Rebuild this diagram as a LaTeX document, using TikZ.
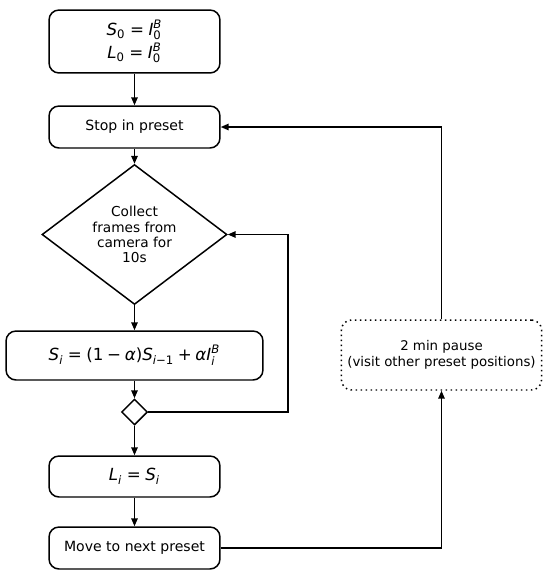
\documentclass[tikz,border=0pt]{standalone}
\usepackage{amsmath}
\usepackage{fontspec}
\setmainfont{DejaVu Sans}
\usetikzlibrary{arrows.meta,positioning,shapes.geometric}
\definecolor{ink}{HTML}{000000}
\newcommand{\vr}[1]{\mathit{#1}}
\newcommand{\eqs}{\mathrel{\text{=}}}
\newcommand{\pls}{\mathbin{\text{+}}}
\newcommand{\mns}{\mathbin{\text{−}}}
\newcommand{\alp}{\text{\itshape α}}

\begin{document}
\begin{tikzpicture}[x=0.02cm,y=-0.02cm,
    box/.style={draw=ink,line width=0.85pt,rounded corners=0.2cm,align=center,
      minimum width=3.42cm,font=\fontsize{8}{10}\selectfont},
    mathbox/.style={box,font=\fontsize{9.5}{12}\selectfont},
    decide/.style={draw=ink,line width=0.85pt,diamond,inner sep=0pt,align=center},
    flow/.style={draw=ink,line width=0.85pt,-{Triangle[length=1.6mm,width=1.3mm]}}]
  \useasboundingbox (0,0) rectangle (550,575);
  % main column
  \node[mathbox,minimum height=1.26cm] (init) at (134.5,41.5)
    {$\vr{S}_{\text{0}} \eqs \vr{I}^{\vr{B}}_{\text{0}}$\\[1pt]$\vr{L}_{\text{0}} \eqs \vr{I}^{\vr{B}}_{\text{0}}$};
  \node[box,minimum height=0.84cm] (stop) at (134.5,127) {Stop in preset};
  \node[decide,minimum width=3.7cm,minimum height=2.7cm,font=\fontsize{7.8}{8.6}\selectfont]
    (collect) at (134.5,234.5) {Collect\\frames from\\camera for\\10s};
  \node[mathbox,minimum width=5.14cm,minimum height=0.98cm]
    (update) at (134.5,355.5) {$\vr{S}_{\vr{i}} \eqs \text{(1}\mns\alp\text{)}\vr{S}_{\vr{i}\mns\text{1}} \pls \alp\vr{I}^{\vr{B}}_{\vr{i}}$};
  \node[decide,minimum width=0.52cm,minimum height=0.52cm] (check) at (134.5,412) {};
  \node[mathbox,minimum height=0.82cm] (last) at (134.5,476.5) {$\vr{L}_{\vr{i}} \eqs \vr{S}_{\vr{i}}$};
  \node[box,minimum height=0.84cm] (move) at (134.5,548) {Move to next preset};
  % side loop
  \node[box,dotted,minimum width=3.98cm,minimum height=1.4cm,font=\fontsize{7.6}{9.2}\selectfont]
    (pause) at (441.5,355) {2 min pause\\(visit other preset positions)};
  \coordinate (loopx) at (288,412);

  \draw[flow] (init) -- (stop);
  \draw[flow] (stop) -- (collect);
  \draw[flow] (collect) -- (update);
  \draw[flow] (update) -- (check);
  \draw[flow] (check) -- (last);
  \draw[flow] (last) -- (move);
  \draw[flow] (check.east) -- (loopx) |- (collect.east);
  \draw[flow] (move.east) -| (pause.south);
  \draw[flow] (pause.north) |- (stop.east);
\end{tikzpicture}
\end{document}
